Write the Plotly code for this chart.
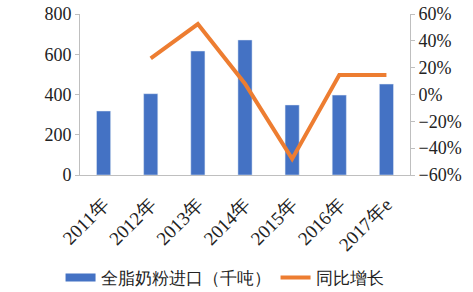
import plotly.graph_objects as go

categories = ["2011年", "2012年", "2013年", "2014年", "2015年", "2016年", "2017年e"]
imports_kt = [318, 404, 616, 671, 348, 397, 452]
yoy_pct = [None, 27, 52.5, 8, -48, 14.5, 14.5]

font_fam = "Liberation Serif"

fig = go.Figure()
fig.add_trace(go.Bar(x=categories, y=imports_kt, name="全脂奶粉进口（千吨）",
                     marker_color="#4472C4", width=0.3, yaxis="y", showlegend=False))
# legend-only entry drawn as a wide blue swatch
fig.add_trace(go.Scatter(x=[None], y=[None], name="全脂奶粉进口（千吨）", mode="lines",
                         line=dict(color="#4472C4", width=8), yaxis="y"))
fig.add_trace(go.Scatter(x=categories, y=yoy_pct, name="同比增长", mode="lines",
                         line=dict(color="#ED7D31", width=4), yaxis="y2"))

fig.update_layout(
    width=473, height=292,
    margin=dict(l=80, r=63, t=14, b=117),
    paper_bgcolor="white", plot_bgcolor="white",
    font=dict(family=font_fam, size=17, color="#222"),
    showlegend=True,
    legend=dict(orientation="h", x=0.128, xref="container", xanchor="left",
                y=0.048, yref="container", yanchor="middle",
                font=dict(size=17), itemwidth=30, tracegroupgap=0,
                entrywidthmode="pixels", entrywidth=0),
    xaxis=dict(showline=True, linecolor="#BFBFBF", linewidth=1, tickangle=-45,
               ticks="outside", ticklen=10, tickcolor="rgba(0,0,0,0)",
               tickfont=dict(size=19), showgrid=False, automargin=False),
    yaxis=dict(range=[0, 800], dtick=200, showline=True, linecolor="#BFBFBF",
               ticks="outside", ticklen=4, tickcolor="#BFBFBF", showgrid=False,
               zeroline=False, tickfont=dict(size=18), automargin=False),
    yaxis2=dict(range=[-60, 60], dtick=20, ticksuffix="%", overlaying="y", side="right",
                showline=True, linecolor="#BFBFBF", ticks="outside", ticklen=4,
                tickcolor="#BFBFBF", showgrid=False, zeroline=False, tickfont=dict(size=18),
                automargin=False),
)

fig.write_html("out.html")
